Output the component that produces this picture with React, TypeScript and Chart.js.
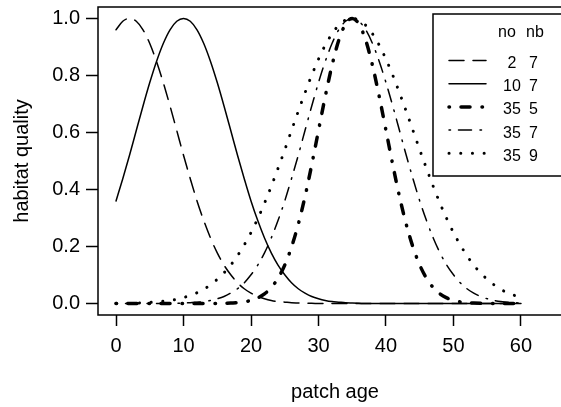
import React, { useEffect, useRef } from "react";
import { Chart, registerables } from "chart.js";

Chart.register(...registerables);

// ---- data ----
const patchAge = [
  0, 1, 2, 3, 4, 5, 6, 7, 8, 9, 10, 11, 12, 13, 14, 15, 16, 17, 18, 19, 20,
  21, 22, 23, 24, 25, 26, 27, 28, 29, 30, 31, 32, 33, 34, 35, 36, 37, 38, 39, 40,
  41, 42, 43, 44, 45, 46, 47, 48, 49, 50, 51, 52, 53, 54, 55, 56, 57, 58, 59, 60,
];

const qualityNo2Nb7 = [
  0.96, 0.99, 1.0, 0.99, 0.96, 0.912, 0.849, 0.775, 0.693, 0.607, 0.52,
  0.438, 0.36, 0.291, 0.23, 0.178, 0.135, 0.101, 0.073, 0.052, 0.037,
  0.025, 0.017, 0.011, 0.007, 0.005, 0.003, 0.002, 0.001, 0.001, 0,
  0, 0, 0, 0, 0, 0, 0, 0, 0, 0,
  0, 0, 0, 0, 0, 0, 0, 0, 0, 0,
  0, 0, 0, 0, 0, 0, 0, 0, 0, 0,
];

const qualityNo10Nb7 = [
  0.36, 0.438, 0.52, 0.607, 0.693, 0.775, 0.849, 0.912, 0.96, 0.99, 1.0,
  0.99, 0.96, 0.912, 0.849, 0.775, 0.693, 0.607, 0.52, 0.438, 0.36,
  0.291, 0.23, 0.178, 0.135, 0.101, 0.073, 0.052, 0.037, 0.025, 0.017,
  0.011, 0.007, 0.005, 0.003, 0.002, 0.001, 0, 0, 0, 0,
  0, 0, 0, 0, 0, 0, 0, 0, 0, 0,
  0, 0, 0, 0, 0, 0, 0, 0, 0, 0,
];

const qualityNo35Nb5 = [
  0, 0, 0, 0, 0, 0, 0, 0, 0, 0, 0,
  0, 0, 0, 0, 0, 0.001, 0.002, 0.003, 0.006, 0.011,
  0.02, 0.034, 0.056, 0.089, 0.135, 0.198, 0.278, 0.375, 0.487, 0.607,
  0.726, 0.835, 0.923, 0.98, 1.0, 0.98, 0.923, 0.835, 0.726, 0.607,
  0.487, 0.375, 0.278, 0.198, 0.135, 0.089, 0.056, 0.034, 0.02, 0.011,
  0.006, 0.003, 0.002, 0.001, 0, 0, 0, 0, 0, 0,
];

const qualityNo35Nb7 = [
  0, 0, 0, 0, 0, 0, 0, 0, 0, 0.001, 0.002,
  0.003, 0.005, 0.007, 0.011, 0.017, 0.025, 0.037, 0.052, 0.073, 0.101,
  0.135, 0.178, 0.23, 0.291, 0.36, 0.438, 0.52, 0.607, 0.693, 0.775,
  0.849, 0.912, 0.96, 0.99, 1.0, 0.99, 0.96, 0.912, 0.849, 0.775,
  0.693, 0.607, 0.52, 0.438, 0.36, 0.291, 0.23, 0.178, 0.135, 0.101,
  0.073, 0.052, 0.037, 0.025, 0.017, 0.011, 0.007, 0.005, 0.003, 0.002,
];

const qualityNo35Nb9 = [
  0.001, 0.001, 0.001, 0.002, 0.003, 0.004, 0.006, 0.008, 0.011, 0.015, 0.021,
  0.029, 0.038, 0.05, 0.066, 0.085, 0.108, 0.135, 0.168, 0.206, 0.249,
  0.298, 0.352, 0.411, 0.474, 0.539, 0.607, 0.674, 0.739, 0.801, 0.857,
  0.906, 0.946, 0.976, 0.994, 1.0, 0.994, 0.976, 0.946, 0.906, 0.857,
  0.801, 0.739, 0.674, 0.607, 0.539, 0.474, 0.411, 0.352, 0.298, 0.249,
  0.206, 0.168, 0.135, 0.108, 0.085, 0.066, 0.05, 0.038, 0.029, 0.021,
];

const legendNo = [" 2", "10", "35", "35", "35"];
const legendNb = ["7", "7", "5", "7", "9"];
const legendTitleNo = "no";
const legendTitleNb = "nb";

const xTicks = [0, 10, 20, 30, 40, 50, 60];
const yTicks = [0, 0.2, 0.4, 0.6, 0.8, 1.0];

const xTitle = "patch age";
const yTitle = "habitat quality";

// ---- styles ----
const FONT = '"Liberation Sans", Arial, Helvetica, sans-serif';
const seriesStyles = [
  { width: 1.5, dash: [15, 9] },
  { width: 1.5, dash: [] as number[] },
  { width: 3.5, dash: [0.5, 11.5, 9, 12] },
  { width: 1.5, dash: [1.5, 8, 13, 8.5] },
  { width: 3, dash: [0.1, 11.6] },
];
const seriesValues = [
  qualityNo2Nb7,
  qualityNo10Nb7,
  qualityNo35Nb5,
  qualityNo35Nb7,
  qualityNo35Nb9,
];

const CANVAS_W = 580;
const CANVAS_H = 407;
const AREA_RIGHT = 572;

export default function App() {
  const ref = useRef<HTMLCanvasElement | null>(null);

  useEffect(() => {
    const canvas = ref.current;
    if (!canvas) return;

    const boxPlugin = {
      id: "rbox",
      afterDatasetsDraw(chart: any) {
        const { ctx, chartArea: a } = chart;
        ctx.save();
        ctx.strokeStyle = "#000";
        ctx.lineWidth = 1.5;
        ctx.setLineDash([]);
        ctx.strokeRect(a.left, a.top, a.right - a.left, a.bottom - a.top);
        ctx.restore();
      },
    };

    const legendPlugin = {
      id: "rlegend",
      afterDraw(chart: any) {
        const { ctx } = chart;
        ctx.save();
        // box
        ctx.fillStyle = "#fff";
        ctx.fillRect(433, 14, 200, 162);
        ctx.strokeStyle = "#000";
        ctx.lineWidth = 1.5;
        ctx.setLineDash([]);
        ctx.strokeRect(433, 14, 200, 162);
        // title
        ctx.fillStyle = "#000";
        ctx.font = `16px ${FONT}`;
        ctx.textAlign = "left";
        ctx.textBaseline = "alphabetic";
        ctx.fillText(legendTitleNo, 498, 37);
        ctx.fillText(legendTitleNb, 526, 37);
        // rows
        chart.data.datasets.forEach((ds: any, i: number) => {
          const baseY = 68 + i * 23.2;
          const lineY = baseY - 7.5;
          ctx.save();
          ctx.strokeStyle = "#000";
          ctx.lineWidth = ds.borderWidth;
          ctx.lineCap = "round";
          ctx.setLineDash(ds.borderDash || []);
          ctx.beginPath();
          ctx.moveTo(449, lineY);
          ctx.lineTo(486, lineY);
          ctx.stroke();
          ctx.restore();
          ctx.fillText(legendNo[i], 503, baseY);
          ctx.fillText(legendNb[i], 529, baseY);
        });
        ctx.restore();
      },
    };

    const datasets = seriesValues.map((vals, i) => ({
      label: `no ${legendNo[i].trim()} nb ${legendNb[i]}`,
      data: patchAge.map((x, j) => ({ x, y: vals[j] })),
      borderColor: "#000",
      backgroundColor: "#000",
      borderWidth: seriesStyles[i].width,
      borderDash: seriesStyles[i].dash,
      borderCapStyle: "round",
      borderJoinStyle: "round",
      cubicInterpolationMode: "monotone",
      pointRadius: 0,
      fill: false,
    }));

    const chart = new Chart(canvas, {
      type: "line",
      data: { datasets } as any,
      options: {
        responsive: false,
        animation: false,
        devicePixelRatio: 1,
        layout: { padding: { top: 7, right: CANVAS_W - AREA_RIGHT, left: 0, bottom: 0 } },
        plugins: {
          legend: { display: false },
          tooltip: { enabled: false },
        },
        scales: {
          x: {
            type: "linear",
            min: -2.67,
            max: 67.56,
            afterBuildTicks: (s: any) => {
              s.ticks = xTicks.map((v) => ({ value: v }));
            },
            afterFit: (s: any) => {
              s.height = 92;
              s.paddingLeft = 0;
              s.paddingRight = 0;
              s.paddingTop = 0;
              s.paddingBottom = 0;
            },
            grid: {
              drawOnChartArea: false,
              drawTicks: true,
              tickLength: 11,
              tickWidth: 1.5,
              tickColor: "#000",
            },
            border: { display: false },
            ticks: {
              color: "#000",
              font: { family: FONT, size: 20 },
              padding: 8,
              maxRotation: 0,
              autoSkip: false,
              callback: (v: any) => String(v),
            },
            title: {
              display: true,
              text: xTitle,
              color: "#000",
              font: { family: FONT, size: 20 },
              padding: { top: 0, bottom: 3 },
            },
          },
          y: {
            type: "linear",
            min: -0.04,
            max: 1.04,
            afterBuildTicks: (s: any) => {
              s.ticks = yTicks.map((v) => ({ value: v }));
            },
            afterFit: (s: any) => {
              s.width = 98;
              s.paddingLeft = 0;
              s.paddingRight = 0;
              s.paddingTop = 0;
              s.paddingBottom = 0;
            },
            grid: {
              drawOnChartArea: false,
              drawTicks: true,
              tickLength: 12,
              tickWidth: 1.5,
              tickColor: "#000",
            },
            border: { display: false },
            ticks: {
              color: "#000",
              font: { family: FONT, size: 20 },
              padding: 6,
              autoSkip: false,
              callback: (v: any) => Number(v).toFixed(1),
            },
            title: {
              display: true,
              text: yTitle,
              color: "#000",
              font: { family: FONT, size: 20 },
              padding: { top: 10, bottom: 0 },
            },
          },
        },
      } as any,
      plugins: [boxPlugin, legendPlugin],
    });

    return () => chart.destroy();
  }, []);

  return (
    <div
      style={{
        position: "fixed",
        left: 0,
        top: 0,
        width: 561,
        height: 407,
        overflow: "hidden",
        background: "#fff",
      }}
    >
      <canvas
        ref={ref}
        width={CANVAS_W}
        height={CANVAS_H}
        style={{ display: "block", width: CANVAS_W, height: CANVAS_H }}
      />
    </div>
  );
}
